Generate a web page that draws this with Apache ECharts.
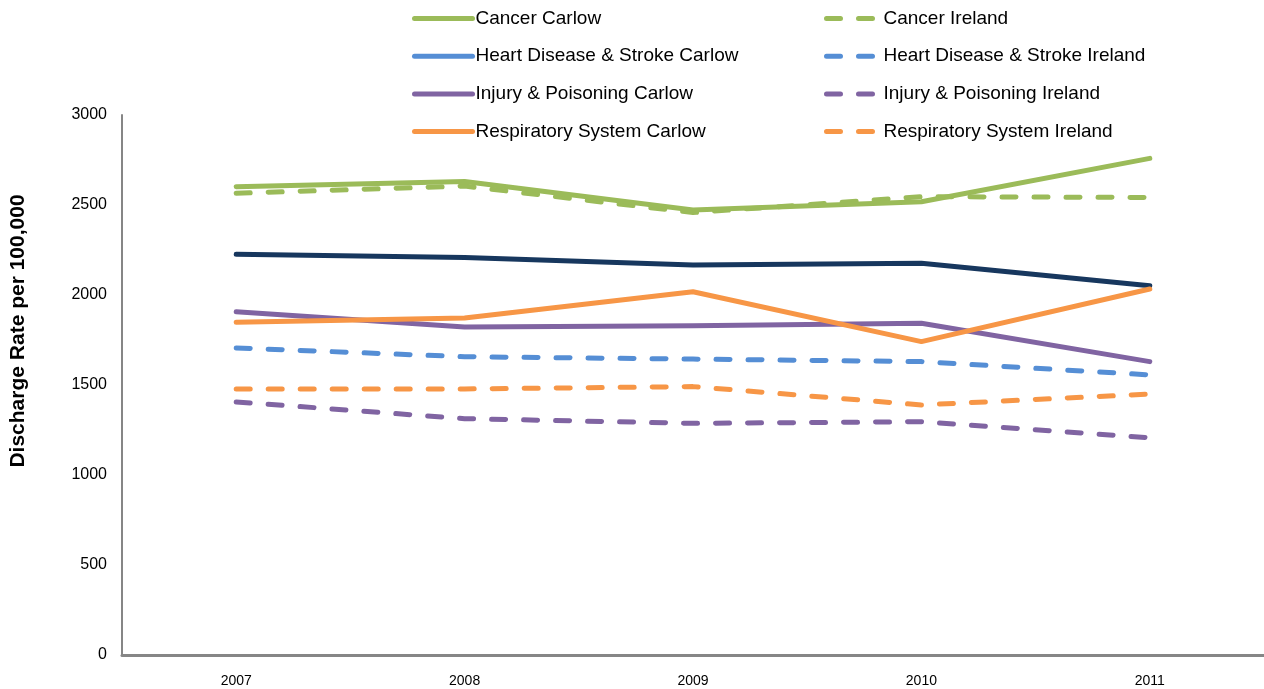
<!DOCTYPE html>
<html>
<head>
<meta charset="utf-8">
<script src="https://cdn.jsdelivr.net/npm/echarts@6/dist/echarts.min.js"></script>
<style>
  html, body { margin: 0; padding: 0; background: #fff; }
  #chart { width: 1264px; height: 689px; }
</style>
</head>
<body>
<div id="chart"></div>
<script>
// years on the x axis
const years = ['2007', '2008', '2009', '2010', '2011'];

// discharge rate per 100,000
const cancerCarlow = [2602, 2630, 2472, 2518, 2759];
const cancerIreland = [2565, 2605, 2458, 2546, 2542];
const heartCarlow = [2226, 2209, 2167, 2176, 2052];
const heartIreland = [1706, 1657, 1644, 1630, 1556];
const injuryCarlow = [1907, 1822, 1829, 1843, 1630];
const injuryIreland = [1406, 1313, 1287, 1296, 1207];
const respCarlow = [1848, 1872, 2018, 1741, 2033];
const respIreland = [1478, 1478, 1491, 1389, 1450];

const yTicks = [0, 500, 1000, 1500, 2000, 2500, 3000];

const GREEN = '#9BBB59';
const BLUE = '#558ED5';
const NAVY = '#17375E';
const PURPLE = '#8064A2';
const ORANGE = '#F79646';

const FONT = '"Liberation Sans", Arial, sans-serif';

function line(name, data, color, dashed) {
  return {
    name: name,
    type: 'line',
    data: data,
    symbol: 'none',
    smooth: false,
    lineStyle: {
      color: color,
      width: 5,
      type: dashed ? [14, 18] : 'solid',
      cap: 'round',
      join: 'round'
    },
    itemStyle: { color: color },
    emphasis: { disabled: true }
  };
}

// shared legend look: thick line sample, no symbol dot
const legendBase = {
  orient: 'vertical',
  top: 4,
  itemHeight: 14,
  itemGap: 18.7,
  itemStyle: { opacity: 0 },
  lineStyle: { width: 5, cap: 'round' }
};

const chart = echarts.init(document.getElementById('chart'));

const option = {
  animation: false,
  backgroundColor: '#fff',
  textStyle: { fontFamily: FONT },
  // two legend columns: Carlow on the left, Ireland on the right
  legend: [
    Object.assign({}, legendBase, {
      left: 407,
      itemWidth: 58,
      textStyle: { fontFamily: FONT, fontSize: 19, color: '#000', padding: [0, 0, 0, -2] },
      data: [
        { name: 'Cancer Carlow' },
        { name: 'Heart Disease & Stroke Carlow', lineStyle: { color: BLUE } },
        { name: 'Injury & Poisoning Carlow' },
        { name: 'Respiratory System Carlow' }
      ]
    }),
    Object.assign({}, legendBase, {
      left: 819,
      itemWidth: 52,
      textStyle: { fontFamily: FONT, fontSize: 19, color: '#000', padding: [0, 0, 0, 0] },
      data: [
        { name: 'Cancer Ireland' },
        { name: 'Heart Disease & Stroke Ireland' },
        { name: 'Injury & Poisoning Ireland' },
        { name: 'Respiratory System Ireland' }
      ]
    })
  ],
  grid: {
    left: 122,
    right: 0,
    top: 115,
    bottom: 34,
    containLabel: false
  },
  xAxis: {
    type: 'category',
    data: years,
    boundaryGap: true,
    axisLine: { lineStyle: { color: '#868686', width: 3 } },
    axisTick: { show: false },
    axisLabel: { color: '#000', fontSize: 14, fontFamily: FONT, margin: 19 },
    splitLine: { show: false }
  },
  yAxis: {
    type: 'value',
    min: yTicks[0],
    max: yTicks[yTicks.length - 1],
    interval: yTicks[1] - yTicks[0],
    axisLine: { show: true, lineStyle: { color: '#868686', width: 2 } },
    axisTick: { show: false },
    axisLabel: {
      color: '#000',
      fontSize: 16,
      fontFamily: FONT,
      margin: 15,
      formatter: function (v) { return String(v); }
    },
    splitLine: { show: false }
  },
  graphic: [
    {
      type: 'text',
      x: 18,
      y: 331,
      rotation: Math.PI / 2,
      style: {
        text: 'Discharge Rate per 100,000',
        font: 'bold 21px ' + FONT,
        fill: '#000',
        align: 'center',
        verticalAlign: 'middle'
      }
    }
  ],
  series: [
    line('Cancer Ireland', cancerIreland, GREEN, true),
    line('Heart Disease & Stroke Ireland', heartIreland, BLUE, true),
    line('Injury & Poisoning Ireland', injuryIreland, PURPLE, true),
    line('Respiratory System Ireland', respIreland, ORANGE, true),
    line('Cancer Carlow', cancerCarlow, GREEN, false),
    line('Heart Disease & Stroke Carlow', heartCarlow, NAVY, false),
    line('Injury & Poisoning Carlow', injuryCarlow, PURPLE, false),
    line('Respiratory System Carlow', respCarlow, ORANGE, false)
  ]
};

chart.setOption(option);
</script>
</body>
</html>
